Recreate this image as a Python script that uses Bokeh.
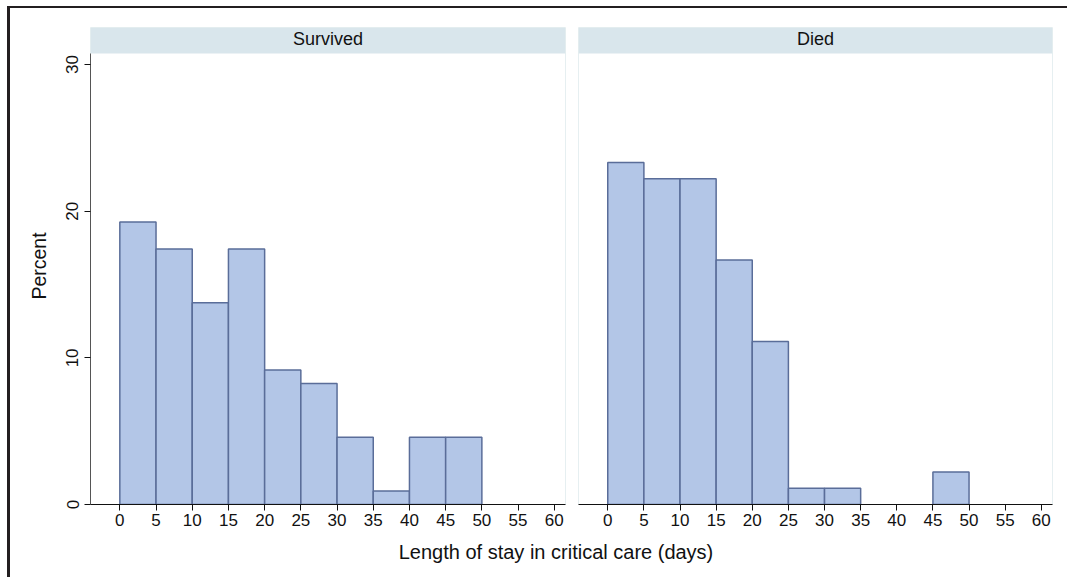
from bokeh.plotting import figure
from bokeh.models import Range1d, BoxAnnotation, Label, Div, FixedTicker
from bokeh.layouts import row, column
from bokeh.embed import file_html
from bokeh.resources import INLINE

# ---- data (percent of patients per 5-day bin) ----
bin_width = 5
surv_bins = [0, 5, 10, 15, 20, 25, 30, 35, 40, 45]
surv_pct = [19.27, 17.43, 13.76, 17.43, 9.17, 8.26, 4.59, 0.92, 4.59, 4.59]
died_bins = [0, 5, 10, 15, 20, 25, 30, 45]
died_pct = [23.33, 22.22, 22.22, 16.67, 11.11, 1.11, 1.11, 2.22]
panel_titles = ["Survived", "Died"]
x_ticks = [0, 5, 10, 15, 20, 25, 30, 35, 40, 45, 50, 55, 60]
y_ticks = [0, 10, 20, 30]

FONT = "Liberation Sans"
BAR_FILL = "#b3c6e7"
BAR_LINE = "#5a6d99"
STRIP = "#d9e6ec"
X_START, X_END = -4.05, 61.55
Y_PLOT_TOP = 30.75   # top of plot region (strip bottom)
Y_END = 32.53        # top of strip


def make_panel(bins, pct, title, width, left_border, right_border, show_y):
    p = figure(width=width, height=529, output_backend="svg", toolbar_location=None,
               x_range=Range1d(X_START, X_END), y_range=Range1d(0, Y_END),
               min_border_left=left_border, min_border_right=right_border,
               min_border_top=19, min_border_bottom=33,
               y_axis_location="left" if show_y else None)
    p.grid.visible = False
    p.outline_line_color = "#e6eff1"
    p.outline_line_width = 1
    p.background_fill_color = "white"
    p.border_fill_color = "white"

    p.add_layout(BoxAnnotation(bottom=Y_PLOT_TOP, fill_color=STRIP, fill_alpha=1.0,
                               line_color=None, level="underlay"))
    p.add_layout(Label(x=(X_START + X_END) / 2, y=(Y_PLOT_TOP + Y_END) / 2 + 0.1,
                       text=title, text_align="center", text_baseline="middle",
                       text_font=FONT, text_font_size="18px", text_color="#111111"))

    lefts = bins
    rights = [b + bin_width for b in bins]
    p.quad(left=lefts, right=rights, bottom=0, top=pct,
           fill_color=BAR_FILL, line_color=BAR_LINE, line_width=1.5)

    xa = p.xaxis[0]
    xa.ticker = FixedTicker(ticks=x_ticks)
    xa.minor_tick_line_color = None
    xa.major_tick_in = 0
    xa.major_tick_out = 6
    xa.axis_line_color = "#111111"
    xa.major_tick_line_color = "#111111"
    xa.major_label_text_font = FONT
    xa.major_label_text_font_size = "17px"
    xa.major_label_text_color = "#111111"
    xa.major_label_standoff = 3

    if show_y:
        ya = p.yaxis[0]
        ya.ticker = FixedTicker(ticks=y_ticks)
        ya.bounds = (0, Y_PLOT_TOP)
        ya.minor_tick_line_color = None
        ya.major_tick_in = 0
        ya.major_tick_out = 6
        ya.axis_line_color = "#555555"
        ya.major_tick_line_color = "#111111"
        ya.major_label_orientation = "parallel"
        ya.major_label_text_font = FONT
        ya.major_label_text_font_size = "17px"
        ya.major_label_text_color = "#111111"
        ya.major_label_standoff = 6
        ya.axis_label = "Percent"
        ya.axis_label_text_font = FONT
        ya.axis_label_text_font_size = "19.5px"
        ya.axis_label_text_font_style = "normal"
        ya.axis_label_text_color = "#111111"
        ya.axis_label_standoff = 14
    return p


p1 = make_panel(surv_bins, surv_pct, panel_titles[0], 561, 80, 6, True)
p2 = make_panel(died_bins, died_pct, panel_titles[1], 487, 7, 6, False)

xlabel = Div(text="Length of stay in critical care (days)", width=1048, height=30,
             styles={"font-family": FONT, "font-size": "20px", "color": "#111111",
                     "text-align": "center", "padding-left": "34px",
                     "box-sizing": "border-box", "line-height": "1.0"})

page = column(row(p1, p2), xlabel,
              styles={"border-top": "2px solid #231f20", "border-left": "3px solid #231f20",
                      "margin-left": "7px", "margin-top": "6px"})

open("out.html", "w").write(file_html(page, INLINE))
